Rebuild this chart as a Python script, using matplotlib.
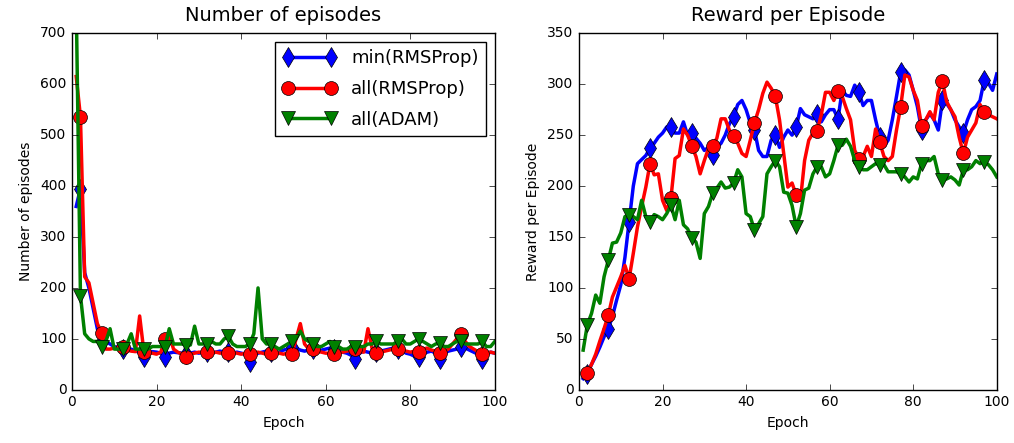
import numpy as np
import matplotlib
matplotlib.use('Agg')
import matplotlib.pyplot as plt

plt.style.use('classic')
plt.rcParams['figure.facecolor'] = 'white'
plt.rcParams['savefig.facecolor'] = 'white'

epochs = np.arange(1, 101)

# left panel: number of episodes per epoch
episodes_min_rms = [360, 395, 230, 200, 160, 120, 95, 95, 90, 85,
                    82, 80, 78, 80, 76, 74, 65, 72, 75, 74,
                    72, 65, 72, 74, 73, 72, 70, 72, 74, 72,
                    74, 75, 72, 74, 76, 74, 75, 72, 74, 72,
                    70, 55, 68, 72, 74, 76, 75, 72, 74, 78,
                    80, 85, 82, 78, 76, 78, 80, 76, 78, 80,
                    82, 80, 76, 74, 72, 68, 60, 72, 76, 74,
                    72, 75, 76, 78, 80, 82, 80, 78, 72, 70,
                    66, 65, 70, 74, 76, 72, 60, 72, 76, 78,
                    80, 85, 82, 78, 74, 70, 60, 70, 74, 72]
episodes_all_rms = [615, 536, 222, 210, 170, 130, 112, 80, 80, 82,
                    80, 85, 78, 76, 75, 145, 75, 72, 72, 70,
                    74, 100, 110, 80, 74, 70, 65, 70, 72, 74,
                    73, 75, 72, 74, 72, 73, 72, 74, 72, 70,
                    72, 70, 72, 74, 72, 70, 72, 74, 72, 70,
                    72, 70, 100, 130, 90, 80, 80, 76, 74, 72,
                    72, 70, 72, 74, 76, 78, 80, 76, 74, 120,
                    80, 72, 74, 76, 78, 80, 80, 78, 76, 74,
                    76, 75, 80, 82, 78, 76, 72, 76, 80, 90,
                    100, 110, 95, 85, 80, 75, 70, 72, 74, 72]
episodes_all_adam = [760, 185, 110, 100, 95, 95, 85, 95, 120, 80,
                     80, 80, 90, 110, 80, 80, 80, 80, 85, 85,
                     85, 85, 120, 90, 90, 90, 88, 88, 125, 90,
                     90, 90, 95, 90, 90, 100, 105, 90, 85, 85,
                     85, 90, 110, 200, 100, 90, 90, 85, 80, 85,
                     90, 95, 100, 115, 100, 95, 90, 85, 85, 90,
                     95, 85, 85, 80, 80, 85, 85, 85, 85, 90,
                     90, 95, 90, 90, 90, 90, 95, 100, 90, 90,
                     95, 100, 95, 90, 85, 90, 92, 85, 85, 90,
                     95, 95, 90, 90, 90, 90, 95, 85, 85, 95]

# right panel: reward per episode
reward_min_rms = [11, 16, 25, 33, 42, 52, 60, 72, 88, 103,
                  130, 165, 200, 222, 226, 230, 237, 242, 248, 252,
                  258, 258, 252, 252, 263, 250, 252, 247, 242, 235,
                  238, 230, 238, 242, 250, 261, 268, 280, 284, 275,
                  262, 255, 235, 229, 229, 245, 250, 238, 248, 255,
                  250, 258, 276, 270, 268, 266, 271, 263, 270, 275,
                  275, 266, 294, 289, 288, 299, 292, 279, 284, 284,
                  265, 248, 239, 245, 265, 288, 312, 314, 309, 294,
                  278, 255, 265, 271, 265, 255, 284, 281, 275, 265,
                  258, 252, 265, 275, 278, 284, 304, 301, 294, 310]
reward_all_rms = [13, 17, 25, 35, 48, 60, 73, 91, 101, 111,
                  122, 109, 134, 160, 180, 199, 222, 211, 212, 186,
                  176, 188, 227, 230, 256, 250, 239, 229, 212, 225,
                  237, 239, 247, 266, 266, 255, 249, 242, 232, 229,
                  245, 262, 275, 291, 302, 296, 288, 265, 232, 199,
                  203, 191, 186, 225, 245, 252, 254, 270, 292, 292,
                  284, 293, 288, 276, 265, 235, 227, 229, 239, 229,
                  256, 243, 229, 225, 229, 255, 278, 309, 307, 294,
                  284, 259, 265, 273, 265, 292, 303, 283, 275, 268,
                  248, 232, 248, 255, 262, 280, 273, 270, 268, 266]
reward_all_adam = [39, 64, 75, 93, 85, 111, 127, 144, 145, 154,
                   170, 172, 170, 167, 186, 170, 165, 172, 170, 167,
                   173, 181, 167, 186, 162, 158, 149, 145, 129, 173,
                   180, 193, 198, 204, 198, 199, 203, 216, 209, 173,
                   170, 157, 163, 170, 212, 219, 225, 219, 194, 193,
                   181, 160, 173, 196, 198, 212, 219, 219, 209, 212,
                   225, 240, 240, 246, 239, 225, 219, 216, 216, 219,
                   222, 221, 221, 214, 214, 214, 212, 209, 204, 209,
                   207, 222, 225, 225, 229, 212, 206, 207, 209, 206,
                   201, 216, 216, 219, 225, 222, 224, 221, 216, 209]

labels = ['min(RMSProp)', 'all(RMSProp)', 'all(ADAM)']
styles = [('b', 'd'), ('r', 'o'), ('g', 'v')]

fig = plt.figure(figsize=(10.14, 4.43), dpi=100)
ax1 = fig.add_axes([0.071, 0.12, 0.417, 0.805])
ax2 = fig.add_axes([0.571, 0.12, 0.412, 0.805])

for ax, series in [(ax1, [episodes_min_rms, episodes_all_rms, episodes_all_adam]),
                   (ax2, [reward_min_rms, reward_all_rms, reward_all_adam])]:
    for vals, (c, m), lab in zip(series, styles, labels):
        ax.plot(epochs, vals, color=c, marker=m, markevery=(1, 5), lw=2.5,
                ms=10, mec='k', mew=0.5, label=lab)
    ax.set_xlim(0, 100)
    ax.set_xlabel('Epoch', fontsize=10)
    ax.tick_params(labelsize=10)

ax1.set_ylim(0, 700)
ax1.set_title('Number of episodes', fontsize=14, pad=9)
ax1.set_ylabel('Number of episodes', fontsize=10)
ax1.legend(loc='upper right', fontsize=13, numpoints=2, handlelength=3,
           labelspacing=0.7)

ax2.set_ylim(0, 350)
ax2.set_title('Reward per Episode', fontsize=14, pad=9)
ax2.set_ylabel('Reward per Episode', fontsize=10)

fig.savefig('out.png', dpi=100)
